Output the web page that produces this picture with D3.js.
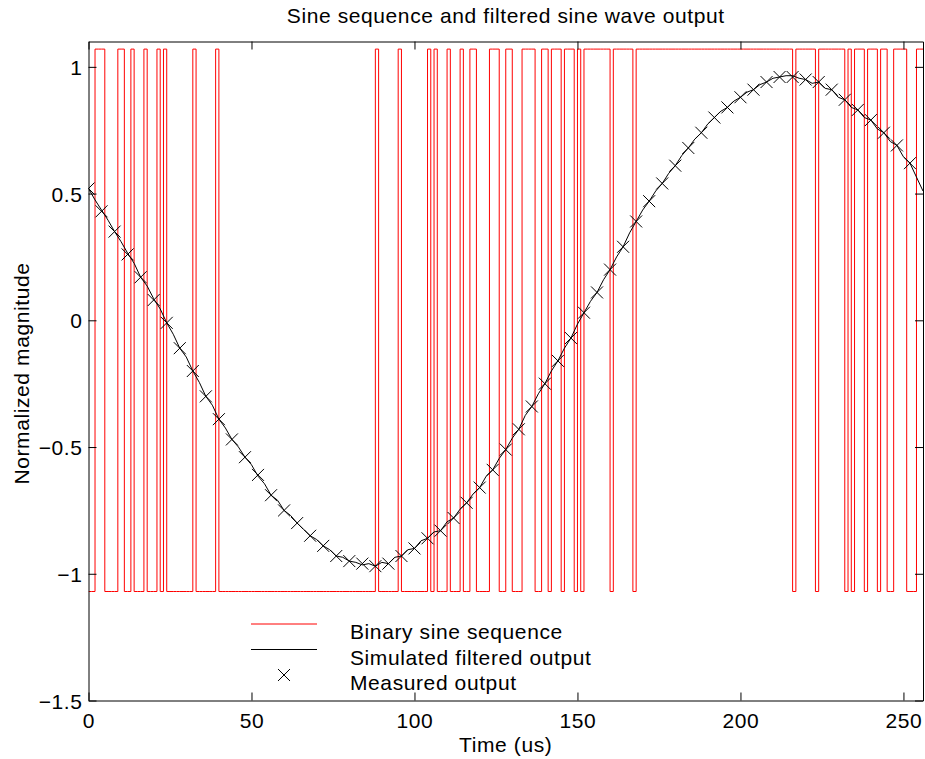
<!DOCTYPE html>
<html>
<head>
<meta charset="utf-8">
<script src="https://cdn.jsdelivr.net/npm/d3@7"></script>
<style>
  body { margin: 0; background: #fff; }
  svg { display: block; }
</style>
</head>
<body>
<div id="chart"></div>
<script>
// high runs of the binary sine sequence, [start, end) in us
var binaryHighRuns = [[2,5],[9,11],[13,14],[17,18],[21,22],[23,24],[32,33],[39,40],
  [88,89],[95,96],[104,105],[106,107],[110,111],[114,115],[117,119],[123,126],[128,130],
  [133,137],[139,141],[142,145],[146,149],[150,151],[152,160],[161,167],[168,216],
  [217,223],[224,232],[233,234],[235,238],[239,242],[243,245],[247,251],[254,256]];
var binaryLevels = [-1.07, 1.07];
var seqLength = 256;

// simulated filtered output, one value every 2 us from 0 to 256
var simStep = 2;
var simulated = [0.52,0.475,0.435,0.395,0.35,0.31,0.265,0.225,0.17,0.135,0.085,0.045,
  -0.01,-0.055,-0.11,-0.145,-0.20,-0.245,-0.30,-0.335,-0.39,-0.425,-0.47,-0.50,
  -0.54,-0.57,-0.615,-0.645,-0.69,-0.71,-0.75,-0.77,-0.80,-0.825,-0.85,-0.865,
  -0.89,-0.905,-0.93,-0.935,-0.95,-0.955,-0.965,-0.96,-0.97,-0.955,-0.96,-0.935,
  -0.93,-0.905,-0.90,-0.87,-0.86,-0.835,-0.83,-0.795,-0.78,-0.745,-0.72,-0.685,
  -0.66,-0.615,-0.59,-0.545,-0.51,-0.465,-0.43,-0.375,-0.34,-0.29,-0.25,-0.20,
  -0.16,-0.11,-0.07,-0.015,0.03,0.075,0.11,0.16,0.20,0.25,0.29,0.345,
  0.39,0.435,0.47,0.51,0.54,0.58,0.61,0.65,0.68,0.715,0.74,0.775,
  0.80,0.825,0.84,0.865,0.88,0.90,0.91,0.93,0.94,0.955,0.96,0.965,
  0.965,0.955,0.95,0.935,0.94,0.915,0.91,0.88,0.87,0.84,0.83,0.80,
  0.79,0.755,0.74,0.705,0.69,0.645,0.62,0.565,0.51];

// measured output, one sample every 4 us from 0 to 252
var measStep = 4;
var measured = [0.52,0.43,0.35,0.26,0.17,0.08,-0.01,-0.11,-0.20,-0.30,-0.39,-0.47,
  -0.54,-0.61,-0.69,-0.75,-0.80,-0.85,-0.89,-0.93,-0.95,-0.96,-0.97,-0.96,
  -0.93,-0.90,-0.86,-0.83,-0.78,-0.72,-0.66,-0.59,-0.51,-0.43,-0.34,-0.25,
  -0.16,-0.07,0.03,0.11,0.20,0.29,0.39,0.47,0.54,0.61,0.68,0.74,
  0.80,0.84,0.88,0.91,0.94,0.96,0.96,0.95,0.94,0.91,0.87,0.83,
  0.79,0.74,0.69,0.62];

var xTicks = [0, 50, 100, 150, 200, 250];
var yTicks = [-1.5, -1, -0.5, 0, 0.5, 1];
var legendLabels = ['Binary sine sequence', 'Simulated filtered output', 'Measured output'];

var width = 925, height = 759;
var margin = {top: 41.5, right: 2, bottom: 58.5, left: 88.5};
var font = "'Liberation Sans', Arial, Helvetica, sans-serif";
var fs = '21px';
var ls = '0.6px';

var svg = d3.select('#chart').append('svg')
    .attr('width', width)
    .attr('height', height)
    .style('font-family', font);

var x = d3.scaleLinear().domain([0, 256]).range([margin.left, width - margin.right]);
var y = d3.scaleLinear().domain([-1.5, 1.1]).range([height - margin.bottom, margin.top]);

// binary sequence as sample states
var bits = d3.range(seqLength).map(function(t) {
  return binaryHighRuns.some(function(r) { return t >= r[0] && t < r[1]; }) ? 1 : 0;
});
var binPts = bits.map(function(b, t) { return {t: t, v: binaryLevels[b]}; });
binPts.push({t: seqLength, v: binaryLevels[bits[seqLength - 1]]});

var simPts = simulated.map(function(v, i) { return {t: i * simStep, v: v}; });
var measPts = measured.map(function(v, i) { return {t: i * measStep, v: v}; });

svg.append('defs').append('clipPath').attr('id', 'clip')
  .append('rect')
    .attr('x', x(0)).attr('y', y(1.1))
    .attr('width', x(256) - x(0)).attr('height', y(-1.5) - y(1.1));

var plot = svg.append('g').attr('clip-path', 'url(#clip)');

var stepLine = d3.line().curve(d3.curveStepAfter)
    .x(function(d) { return x(d.t); })
    .y(function(d) { return y(d.v); });
var line = d3.line()
    .x(function(d) { return x(d.t); })
    .y(function(d) { return y(d.v); });

plot.append('path').datum(binPts)
    .attr('d', stepLine)
    .attr('fill', 'none')
    .attr('stroke', '#ff0000')
    .attr('stroke-width', 1);

plot.append('path').datum(simPts)
    .attr('d', line)
    .attr('fill', 'none')
    .attr('stroke', '#000')
    .attr('stroke-width', 1);

var crossPath = 'M-6,-6L6,6M-6,6L6,-6';
plot.selectAll('.meas').data(measPts).enter().append('path')
    .attr('class', 'meas')
    .attr('transform', function(d) { return 'translate(' + x(d.t) + ',' + y(d.v) + ')'; })
    .attr('d', crossPath)
    .attr('fill', 'none')
    .attr('stroke', '#000')
    .attr('stroke-width', 1);

// axes, ticks inward on all four sides
var tickLen = 8;
var fmtY = function(d) { return d < 0 ? '\u2212' + Math.abs(d) : String(d); };

var axB = svg.append('g').attr('transform', 'translate(0,' + y(-1.5) + ')')
    .call(d3.axisBottom(x).tickValues(xTicks).tickSizeInner(-tickLen).tickSizeOuter(0).tickPadding(13));
var axT = svg.append('g').attr('transform', 'translate(0,' + y(1.1) + ')')
    .call(d3.axisTop(x).tickValues(xTicks).tickSizeInner(-tickLen).tickSizeOuter(0).tickFormat(''));
var axL = svg.append('g').attr('transform', 'translate(' + x(0) + ',0)')
    .call(d3.axisLeft(y).tickValues(yTicks).tickSizeInner(-tickLen).tickSizeOuter(0).tickPadding(6).tickFormat(fmtY));
var axR = svg.append('g').attr('transform', 'translate(' + x(256) + ',0)')
    .call(d3.axisRight(y).tickValues(yTicks).tickSizeInner(-tickLen).tickSizeOuter(0).tickFormat(''));

[axB, axT, axL, axR].forEach(function(a) {
  a.select('.domain').attr('stroke', '#000').attr('stroke-width', 1);
  a.selectAll('.tick line').attr('stroke', '#000');
  a.selectAll('text').attr('fill', '#000').style('font-family', font)
      .style('font-size', fs).style('letter-spacing', ls);
});
axB.selectAll('text').attr('dy', '0.71em');
axL.selectAll('text').attr('dy', '0.36em');

// titles
svg.append('text')
    .attr('x', (x(0) + x(256)) / 2).attr('y', 23)
    .attr('text-anchor', 'middle')
    .style('font-size', fs).style('letter-spacing', ls)
    .text('Sine sequence and filtered sine wave output');

svg.append('text')
    .attr('x', (x(0) + x(256)) / 2).attr('y', 752)
    .attr('text-anchor', 'middle')
    .style('font-size', fs).style('letter-spacing', ls)
    .text('Time (us)');

svg.append('text')
    .attr('transform', 'translate(29,' + y(-0.21) + ') rotate(-90)')
    .attr('text-anchor', 'middle')
    .style('font-size', fs).style('letter-spacing', ls)
    .text('Normalized magnitude');

// legend
var lg = svg.append('g').attr('transform', 'translate(251,624)');
var rowH = 25.5;
lg.append('line').attr('x1', 0).attr('x2', 66).attr('y1', 0).attr('y2', 0)
    .attr('stroke', '#ff0000');
lg.append('line').attr('x1', 0).attr('x2', 66).attr('y1', rowH).attr('y2', rowH)
    .attr('stroke', '#000');
lg.append('path').attr('d', crossPath)
    .attr('transform', 'translate(33,' + (2 * rowH) + ')')
    .attr('fill', 'none').attr('stroke', '#000');
lg.selectAll('.lt').data(legendLabels).enter().append('text')
    .attr('class', 'lt')
    .attr('x', 99)
    .attr('y', function(d, i) { return i * rowH + 15; })
    .style('font-size', fs).style('letter-spacing', ls)
    .text(function(d) { return d; });
</script>
</body>
</html>
